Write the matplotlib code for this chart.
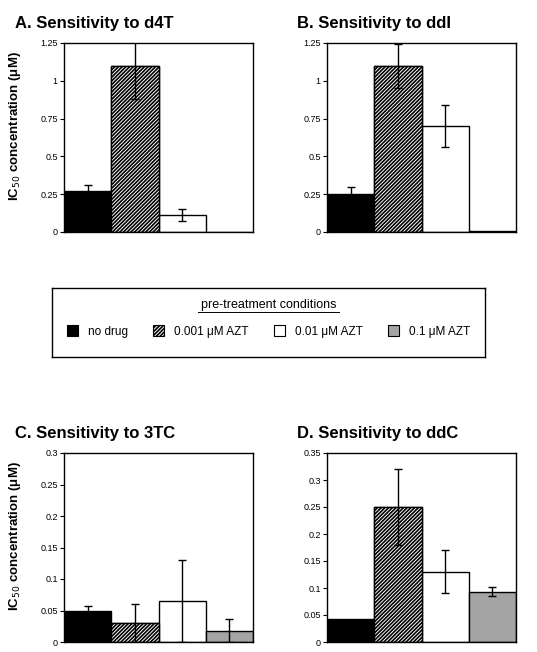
import numpy as np
import matplotlib.pyplot as plt
from matplotlib.patches import Patch

plt.rcParams['font.family'] = ['Liberation Sans', 'DejaVu Sans']
plt.rcParams['hatch.linewidth'] = 1.2

# pre-treatment conditions (legend / bar order)
conditions = ['no drug', '0.001 \u03bcM AZT', '0.01 \u03bcM AZT', '0.1 \u03bcM AZT']

# IC50 values (uM) and errors
d4t_vals = [0.27, 1.10, 0.115, 0.0]
d4t_err = [0.04, 0.22, 0.04, 0.0]
ddi_vals = [0.25, 1.10, 0.70, 0.005]
ddi_err = [0.045, 0.145, 0.14, 0.0]
tc3_vals = [0.050, 0.030, 0.065, 0.018]
tc3_err = [0.007, 0.031, 0.065, 0.018]
ddc_vals = [0.043, 0.25, 0.13, 0.093]
ddc_err = [0.0, 0.07, 0.04, 0.008]

panels = [
    ('A. Sensitivity to d4T', d4t_vals, d4t_err, 1.25, [0, 0.25, 0.5, 0.75, 1, 1.25]),
    ('B. Sensitivity to ddI', ddi_vals, ddi_err, 1.25, [0, 0.25, 0.5, 0.75, 1, 1.25]),
    ('C. Sensitivity to 3TC', tc3_vals, tc3_err, 0.3, [0, 0.05, 0.1, 0.15, 0.2, 0.25, 0.3]),
    ('D. Sensitivity to ddC', ddc_vals, ddc_err, 0.35, [0, 0.05, 0.1, 0.15, 0.2, 0.25, 0.3, 0.35]),
]

faces = ['black', 'white', 'white', '#a4a4a4']
hatches = [None, '/////////', None, None]

fig = plt.figure(figsize=(5.37, 6.52), dpi=100)
W, H = 537, 652
boxes = [(64, 43), (327, 43), (64, 453), (327, 453)]
title_x = [15, 297, 15, 297]
aw, ah = 189, 189

for (title, vals, err, ymax, ticks), (x0, y0), tx in zip(panels, boxes, title_x):
    ax = fig.add_axes([x0 / W, 1 - (y0 + ah) / H, aw / W, ah / H])
    x = np.arange(len(vals))
    ax.bar(x, vals, width=1.0, color=faces, edgecolor='black', linewidth=1.0)
    for i in range(len(vals)):
        if hatches[i]:
            ax.bar(x[i], vals[i], width=1.0, color='white', hatch=hatches[i],
                   edgecolor='black', linewidth=1.0)
    for i in range(len(vals)):
        if err[i] > 0:
            ax.errorbar(x[i], vals[i], yerr=err[i], fmt='none', ecolor='black',
                        elinewidth=1.0, capsize=3, capthick=1.0)
    ax.set_xlim(-0.5, 3.5)
    ax.set_ylim(0, ymax)
    ax.set_yticks(ticks)
    ax.set_yticklabels(['%g' % t for t in ticks])
    ax.set_xticks([])
    ax.tick_params(axis='y', labelsize=6.5, length=3, width=0.8, pad=1.5)
    for sp in ax.spines.values():
        sp.set_linewidth(1.0)
    fig.text(tx / W, 1 - (y0 - 15) / H, title, fontsize=12,
             fontweight='bold', ha='left', va='baseline')
    if x0 < 100:
        fig.text(15 / W, 1 - (y0 + 83) / H, 'IC$_{50}$ concentration (\u03bcM)',
                 fontsize=9.5, fontweight='bold', rotation=90, ha='center', va='center')

# legend box
lax = fig.add_axes([52 / W, 1 - 357 / H, 433 / W, 69 / H])
lax.set_xticks([])
lax.set_yticks([])
for sp in lax.spines.values():
    sp.set_linewidth(1.0)
lax.text(0.5, 0.76, 'pre-treatment conditions', transform=lax.transAxes,
         ha='center', va='center', fontsize=9)
lax.plot([0.337, 0.663], [0.655, 0.655], transform=lax.transAxes, color='black', lw=0.7)
handles = [Patch(facecolor=faces[i], edgecolor='black', hatch=hatches[i], linewidth=0.8)
           for i in range(len(conditions))]
lax.legend(handles, conditions, ncol=4, loc='center', bbox_to_anchor=(0.5, 0.37),
           frameon=False, fontsize=8.5, handlelength=0.95, handleheight=0.95,
           columnspacing=2.1, handletextpad=0.85)

fig.savefig('out.png', dpi=100)
